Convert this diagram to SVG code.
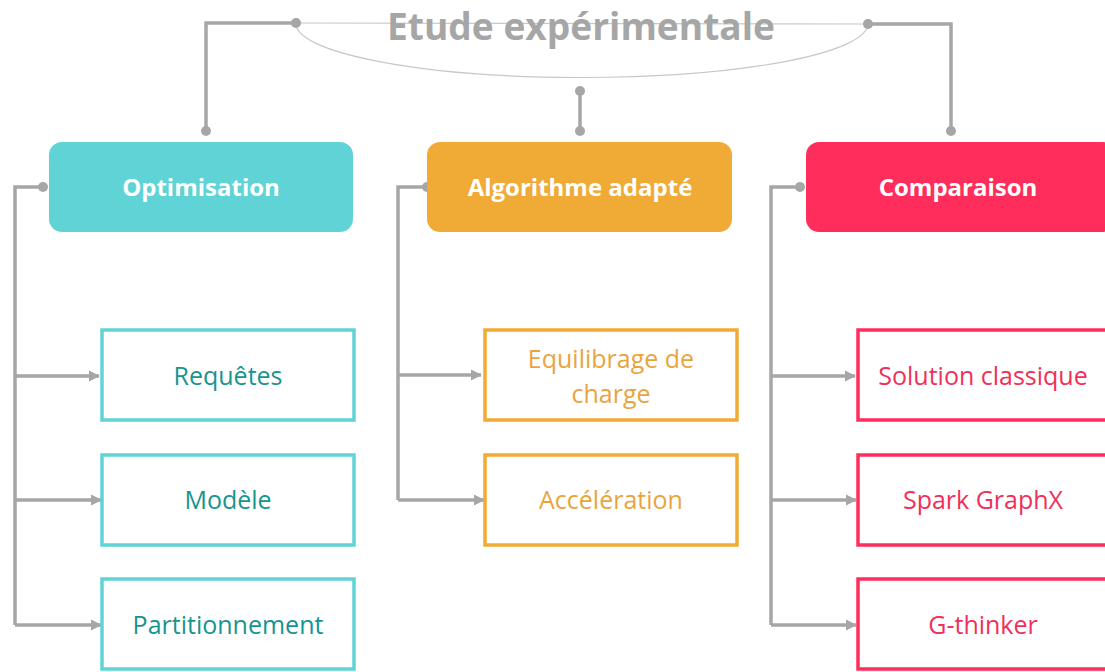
<svg xmlns="http://www.w3.org/2000/svg" width="1105" height="672" viewBox="0 0 1105 672">
<defs>
<style>
.conn{fill:none;stroke:#A6A6A6;stroke-width:3.5}
.thin{fill:none;stroke:#C8C8C8;stroke-width:1.2}
.dot{fill:#A6A6A6}
.hdr{font-family:"Open Sans","Liberation Sans",sans-serif;font-weight:bold;font-size:24px;fill:#FFFFFF;text-anchor:middle}
.lbl{font-family:"Open Sans","Liberation Sans",sans-serif;font-size:25px;text-anchor:middle}
.box{fill:#FFFFFF;stroke-width:3.5}
.t{stroke:#5FD3D5}.tt{fill:#16958F}
.o{stroke:#F0AB36}.ot{fill:#E9A53C}
.r{stroke:#FF2D5B}.rt{fill:#F0305A}
</style>
<marker id="arr" viewBox="0 0 10 10" refX="9" refY="5" markerWidth="3.2" markerHeight="3.2" orient="auto" markerUnits="strokeWidth">
<path d="M0,0 L10,5 L0,10 z" fill="#A6A6A6"/>
</marker>
</defs>
<rect width="1105" height="672" fill="#FFFFFF"/>

<g id="connectors">
<path class="thin" d="M296,23 L868,24"/>
<path class="thin" d="M296,23 A286,54 0 0 0 868,24"/>
<path class="conn" d="M296,23 H206 V131"/>
<path class="conn" d="M868,24 H951 V131"/>
<path class="conn" d="M580,91 V131"/>
<circle class="dot" cx="296" cy="23" r="5"/>
<circle class="dot" cx="868" cy="24" r="5"/>
<circle class="dot" cx="206" cy="131" r="5"/>
<circle class="dot" cx="951" cy="131" r="5"/>
<circle class="dot" cx="580" cy="91" r="5"/>
<circle class="dot" cx="580" cy="131" r="5"/>

<path class="conn" d="M43,187 H15 V625"/>
<circle class="dot" cx="43" cy="187" r="5"/>
<path class="conn" d="M15,376 H99" marker-end="url(#arr)"/>
<path class="conn" d="M15,500 H101" marker-end="url(#arr)"/>
<path class="conn" d="M15,625 H101" marker-end="url(#arr)"/>

<path class="conn" d="M427,187 H398 V500"/>
<circle class="dot" cx="427" cy="187" r="5"/>
<path class="conn" d="M398,375 H481" marker-end="url(#arr)"/>
<path class="conn" d="M398,500 H484" marker-end="url(#arr)"/>

<path class="conn" d="M800,187 H771 V625"/>
<circle class="dot" cx="800" cy="187" r="5"/>
<path class="conn" d="M771,376 H855" marker-end="url(#arr)"/>
<path class="conn" d="M771,500 H856" marker-end="url(#arr)"/>
<path class="conn" d="M771,625 H856" marker-end="url(#arr)"/>
</g>

<g id="title">
<text x="581" y="40" font-family="'Open Sans','Liberation Sans',sans-serif" font-weight="bold" font-size="37" fill="#A6A6A6" text-anchor="middle" textLength="388" lengthAdjust="spacingAndGlyphs">Etude expérimentale</text>
</g>

<g id="optimisation">
<rect x="49" y="142" width="304" height="90" rx="13" fill="#5FD3D5"/>
<text class="hdr" x="201" y="196">Optimisation</text>
</g>
<g id="algorithme">
<rect x="427" y="142" width="305" height="90" rx="13" fill="#F0AB36"/>
<text class="hdr" x="580" y="196">Algorithme adapté</text>
</g>
<g id="comparaison">
<rect x="806" y="142" width="310" height="90" rx="13" fill="#FF2D5B"/>
<text class="hdr" x="958" y="196">Comparaison</text>
</g>

<g id="requetes">
<rect class="box t" x="102" y="330" width="252" height="90"/>
<text class="lbl tt" x="228" y="385">Requêtes</text>
</g>
<g id="modele">
<rect class="box t" x="102" y="455" width="252" height="90"/>
<text class="lbl tt" x="228" y="509">Modèle</text>
</g>
<g id="partitionnement">
<rect class="box t" x="102" y="579" width="252" height="90"/>
<text class="lbl tt" x="228" y="634">Partitionnement</text>
</g>

<g id="equilibrage">
<rect class="box o" x="485" y="330" width="252" height="90"/>
<text class="lbl ot" x="611" y="368">Equilibrage de</text>
<text class="lbl ot" x="611" y="403">charge</text>
</g>
<g id="acceleration">
<rect class="box o" x="485" y="455" width="252" height="90"/>
<text class="lbl ot" x="611" y="509">Accélération</text>
</g>

<g id="solution">
<rect class="box r" x="858" y="330" width="260" height="90"/>
<text class="lbl rt" x="983" y="385">Solution classique</text>
</g>
<g id="spark">
<rect class="box r" x="858" y="455" width="260" height="90"/>
<text class="lbl rt" x="983" y="509">Spark GraphX</text>
</g>
<g id="gthinker">
<rect class="box r" x="858" y="579" width="260" height="90"/>
<text class="lbl rt" x="983" y="634">G-thinker</text>
</g>
</svg>
